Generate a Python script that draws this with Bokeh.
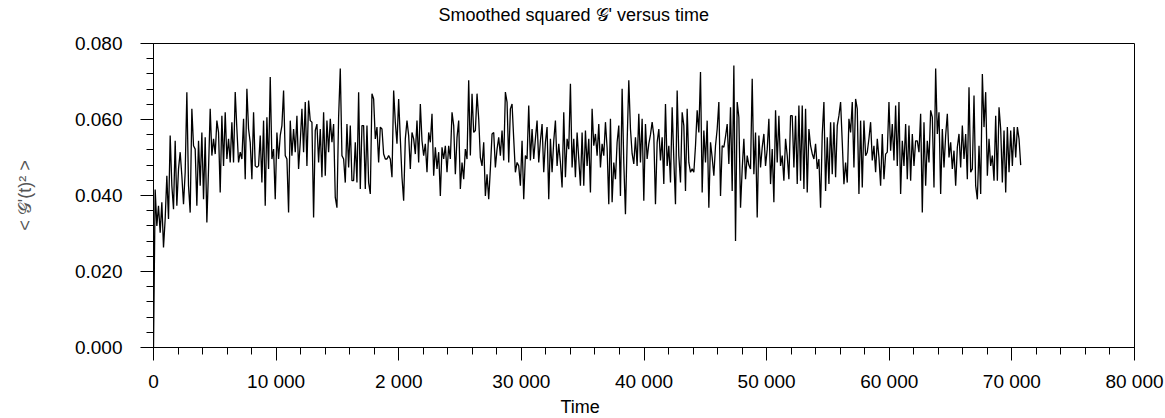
import numpy as np
from bokeh.plotting import figure
from bokeh.models import Range1d, SingleIntervalTicker, NumeralTickFormatter, Title, ColumnDataSource
from bokeh.embed import file_html
from bokeh.resources import INLINE

TITLE = "Smoothed squared 𝒢' versus time"
X_LABEL = "Time"
Y_LABEL = "< 𝒢'(t)² >"
x_tick_values = [0, 10000, 20000, 30000, 40000, 50000, 60000, 70000, 80000]
x_tick_labels = ["0", "10 000", "2 000", "30 000", "40 000", "50 000", "60 000", "70 000", "80 000"]
SAMPLE_STEP = 136  # time units between samples

# <G'(t)^2>, in units of 1e-3, in consecutive stretches of time
seg1 = [0.0, 41.6, 32.0, 37.3, 30.2, 38.2, 26.3, 33.8, 45.2, 33.8, 55.8, 42.6, 36.4, 54.4, 37.3, 47.0,
        51.4, 45.2, 37.7, 46.1, 67.2, 42.6, 35.5, 62.8, 53.1, 52.2, 37.3, 54.4, 42.6, 56.6, 39.0, 55.3,
        32.9, 47.0, 62.8, 50.5, 54.9, 50.9, 59.7, 56.6, 40.8, 61.0, 47.8, 61.9, 49.6, 54.9, 48.7, 59.3,
        48.7, 67.2, 57.5, 48.7, 51.4, 49.6, 60.2, 44.3, 68.1, 57.5, 54.0, 44.3, 61.9, 47.8, 47.4]
seg2 = [47.8, 55.8, 43.4, 59.7, 37.3, 60.6, 47.0, 71.2, 49.6, 52.2, 39.0, 56.6, 49.6, 55.8, 58.4, 67.6,
        50.5, 49.6, 35.5, 59.7, 50.5, 57.5, 51.4, 61.0, 47.0, 54.0, 62.8, 51.4, 64.6, 47.8, 65.0, 59.7,
        59.3, 34.2, 57.1, 58.8, 48.7, 57.5, 44.8, 61.9, 45.2, 59.7, 51.4, 60.2, 54.0, 58.8, 39.5, 36.8,
        60.6, 73.4, 50.5, 49.6, 43.4, 58.8, 47.4, 58.4, 43.9, 43.9, 54.0, 43.4, 67.2, 41.7, 58.4, 58.4, 41.7]
seg3 = [58.4, 43.4, 40.4, 66.8, 65.4, 54.9, 58.0, 48.7, 58.0, 57.5, 50.9, 49.6, 49.6, 50.5, 49.6, 44.8,
        67.6, 59.3, 53.6, 65.4, 54.9, 44.8, 38.6, 54.9, 59.7, 55.8, 47.0, 56.6, 54.9, 50.9, 59.7, 48.7,
        64.1, 54.4, 50.5, 53.6, 46.1, 56.6, 54.0, 61.5, 45.2, 52.7, 47.0, 51.4, 39.9, 52.7, 49.6, 53.1,
        46.1, 53.1, 49.6, 61.9, 58.4, 45.6, 55.3, 59.7, 41.7, 48.7, 44.3, 52.2, 49.6, 70.3, 50.5, 66.8, 56.6]
seg4 = [57.1, 66.8, 60.2, 50.0, 47.8, 54.0, 39.9, 45.6, 39.0, 47.0, 56.2, 56.6, 47.4, 52.2, 55.3, 50.5,
        57.1, 49.2, 67.2, 64.6, 48.7, 62.8, 64.1, 54.9, 46.1, 48.7, 47.8, 42.6, 54.4, 39.0, 50.5, 49.6,
        63.7, 49.2, 57.5, 49.6, 54.9, 59.7, 48.7, 54.4, 58.8, 46.1, 54.0, 58.0, 39.0, 54.9, 46.1, 54.4,
        59.7, 47.8, 53.6, 48.7, 42.1, 61.9, 44.8, 54.9, 52.2, 69.4, 47.4, 54.9, 44.8, 56.6, 49.6, 42.6, 56.6]
seg5 = [42.6, 57.1, 47.8, 54.9, 40.8, 62.8, 53.1, 56.2, 50.5, 58.8, 47.4, 53.6, 50.5, 59.3, 52.5, 37.7,
        60.2, 38.2, 48.7, 44.3, 54.0, 58.4, 39.9, 68.1, 48.7, 35.1, 54.0, 70.3, 57.5, 51.0, 48.3, 55.3,
        47.8, 61.5, 48.7, 60.2, 38.6, 58.8, 49.6, 53.6, 56.0, 59.3, 55.8, 37.7, 54.0, 57.5, 49.2, 55.3,
        43.0, 64.1, 47.8, 53.1, 43.4, 63.2, 49.6, 37.7, 67.6, 50.5, 43.4, 61.9, 58.4, 41.2, 62.8, 48.7, 46.1]
seg6 = [47.0, 46.1, 53.1, 62.4, 56.6, 72.5, 40.8, 57.1, 48.7, 59.7, 36.8, 54.0, 50.0, 45.2, 53.1, 57.5,
        64.6, 39.9, 53.1, 52.7, 55.5, 58.8, 48.3, 63.2, 41.2, 74.2, 28.0, 64.6, 60.6, 36.8, 47.0, 54.9,
        44.3, 50.5, 48.0, 47.0, 70.7, 45.6, 56.6, 34.2, 55.8, 47.4, 52.7, 56.2, 47.8, 52.2, 60.2, 43.0,
        52.2, 38.2, 62.4, 48.7, 61.0, 47.8, 50.5, 43.9, 54.9, 50.5, 44.3, 61.0, 61.0, 47.4, 61.0, 43.0, 63.7]
seg7 = [43.9, 63.7, 41.7, 62.8, 40.8, 57.5, 53.1, 51.0, 49.6, 53.6, 47.0, 49.6, 36.8, 56.2, 64.6, 41.2,
        55.3, 43.0, 59.3, 45.6, 59.3, 44.8, 58.4, 61.0, 64.6, 54.0, 43.0, 48.7, 43.4, 60.2, 56.6, 64.6,
        47.4, 65.4, 62.8, 40.4, 59.7, 42.1, 59.7, 50.5, 51.4, 55.0, 59.3, 49.2, 53.1, 46.1, 54.9, 50.0,
        42.6, 56.2, 44.3, 50.9, 51.4, 64.6, 51.8, 58.8, 49.2, 63.7, 47.8, 64.6, 40.4, 54.4, 47.8, 58.8, 44.3]
seg8 = [58.4, 43.9, 56.2, 47.8, 54.4, 54.4, 51.4, 61.5, 35.5, 59.3, 42.6, 54.4, 48.7, 62.4, 60.6, 42.1,
        73.4, 56.2, 61.9, 40.4, 57.5, 47.4, 55.8, 61.5, 50.0, 54.0, 47.0, 51.8, 42.6, 52.7, 56.2, 47.4,
        58.4, 49.6, 56.2, 44.3, 68.5, 46.1, 47.0, 66.3, 42.6, 39.0, 53.1, 40.4, 72.0, 58.0, 67.2, 45.2,
        54.9, 47.8, 50.5, 43.9, 61.0, 43.9, 63.2, 57.5, 43.4, 57.1, 40.8, 58.0, 46.1, 57.1, 47.8, 58.0,
        50.0, 58.0, 54.9, 48.0]

g2_milli = seg1 + seg2 + seg3 + seg4 + seg5 + seg6 + seg7 + seg8
g2 = np.array(g2_milli) / 1000.0
time = np.arange(len(g2)) * SAMPLE_STEP

source = ColumnDataSource(data=dict(time=time, g2=g2))

FONT = "Liberation Sans"

p = figure(width=1165, height=418, output_backend="svg", toolbar_location=None,
           x_range=Range1d(0, 80000), y_range=Range1d(0, 0.08),
           min_border_left=153, min_border_right=31, min_border_top=43, min_border_bottom=71,
           background_fill_color="white", border_fill_color="white")

p.line("time", "g2", source=source, line_color="black", line_width=1.3)

p.title.text = TITLE
p.title.align = "left"
p.title.offset = 285
p.title.standoff = 0
p.title.text_font = FONT
p.title.text_font_size = "18px"
p.title.text_font_style = "normal"
p.title.text_color = "black"

# empty spacer between the title and the frame
p.add_layout(Title(text=" ", text_font_size="15px", standoff=0), "above")

p.grid.visible = False
p.outline_line_color = "black"
p.outline_line_width = 1

for ax in (p.xaxis[0], p.yaxis[0]):
    ax.axis_line_color = "black"
    ax.axis_line_width = 1
    ax.major_tick_line_color = "black"
    ax.minor_tick_line_color = "black"
    ax.major_tick_out = 13
    ax.major_tick_in = 0
    ax.minor_tick_out = 7
    ax.minor_tick_in = 0
    ax.major_label_text_font = FONT
    ax.major_label_text_font_size = "19px"
    ax.major_label_text_color = "black"

p.xaxis.ticker = SingleIntervalTicker(interval=10000, num_minor_ticks=5)
p.xaxis.major_label_overrides = dict(zip(x_tick_values, x_tick_labels))
p.xaxis.major_label_standoff = 10

p.yaxis.ticker = SingleIntervalTicker(interval=0.02, num_minor_ticks=5)
p.yaxis.formatter = NumeralTickFormatter(format="0.000")
p.yaxis.major_label_standoff = 18
p.yaxis.axis_label = Y_LABEL
p.yaxis.axis_label_text_font = FONT
p.yaxis.axis_label_text_font_size = "18px"
p.yaxis.axis_label_text_font_style = "normal"
p.yaxis.axis_label_text_color = "#555555"
p.yaxis.axis_label_standoff = 37

x_title = Title(text=X_LABEL, align="left", offset=407, standoff=0,
                text_font=FONT, text_font_size="18px", text_font_style="normal", text_color="black")
p.add_layout(x_title, "below")

open("out.html", "w").write(file_html(p, INLINE))
